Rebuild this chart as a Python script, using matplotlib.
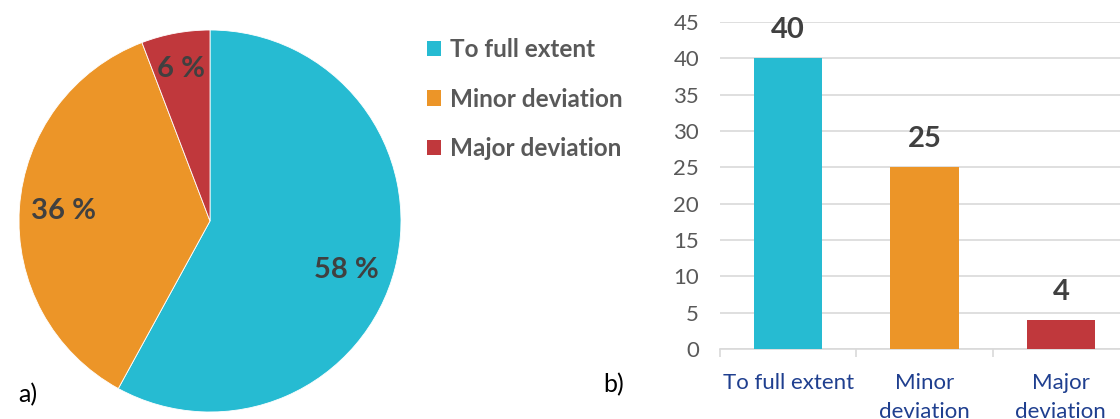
import matplotlib
matplotlib.use("Agg")
import matplotlib.pyplot as plt
from matplotlib.patches import Patch
import numpy as np

plt.rcParams['font.family'] = ['Lato', 'DejaVu Sans']

categories = ["To full extent", "Minor deviation", "Major deviation"]
bar_tick_labels = ["To full extent", "Minor\ndeviation", "Major\ndeviation"]
counts = [40, 25, 4]
pie_labels = ["58 %", "36 %", "6 %"]
colors = ["#26BBD2", "#EC9528", "#C0383C"]
y_ticks = [0, 5, 10, 15, 20, 25, 30, 35, 40, 45]

W, H = 1120, 419
fig = plt.figure(figsize=(W / 100, H / 100), dpi=100)

# ---- pie ----
cx, cy, r = 210, 221, 191
axp = fig.add_axes([(cx - r) / W, (H - cy - r) / H, 2 * r / W, 2 * r / H])
wedges, texts = axp.pie(counts, colors=colors, startangle=90, counterclock=False,
                        wedgeprops=dict(edgecolor="white", linewidth=0.6),
                        labels=pie_labels, labeldistance=0.77,
                        textprops=dict(fontsize=21, fontweight="bold", color="#404040",
                                       ha="center", va="center"))
# Excel-like "best fit" label placement (small angular / radial adjustments)
ang_shift = [-5.5, 0.0, 0.5]
dist = [0.76, 0.77, 0.81]
for t, w, da, d in zip(texts, wedges, ang_shift, dist):
    a = np.deg2rad((w.theta1 + w.theta2) / 2 + da)
    t.set_position((d * np.cos(a), d * np.sin(a)))
    t.set_ha("center")
    t.set_va("center")
axp.set_xlim(-1, 1)
axp.set_ylim(-1, 1)
axp.set_aspect("equal")

handles = [Patch(facecolor=c, edgecolor="none") for c in colors]
fig.legend(handles, categories, loc="upper left", bbox_to_anchor=(405 / W, 1 - 16 / H),
           frameon=False, prop=dict(weight="bold", size=17.5),
           labelcolor="#595959", handlelength=0.6, handleheight=0.6,
           handletextpad=0.35, labelspacing=1.1)

fig.text(18 / W, 1 - 395 / H, "a)", fontsize=18, ha="left", va="center", color="black")
fig.text(603 / W, 1 - 385 / H, "b)", fontsize=18, ha="left", va="center", color="black")

# ---- bars ----
x0, x1 = 720, 1129
ytop, ybot = 22, 349
axb = fig.add_axes([x0 / W, (H - ybot) / H, (x1 - x0) / W, (ybot - ytop) / H])
x = np.arange(len(counts))
bars = axb.bar(x, counts, width=0.5, color=colors, zorder=3)
axb.set_xlim(-0.5, len(counts) - 0.5)
axb.set_ylim(0, 45)
axb.set_yticks(y_ticks)
axb.grid(axis="y", color="#D9D9D9", linewidth=1.2, zorder=0)
for s in ["left", "top", "right"]:
    axb.spines[s].set_visible(False)
axb.spines["bottom"].set_color("#D9D9D9")
axb.spines["bottom"].set_linewidth(1.2)
axb.tick_params(axis="y", length=0, pad=15, labelsize=16, labelcolor="#595959")
axb.set_xticks(x)
axb.set_xticklabels(bar_tick_labels)
axb.set_xticks(np.arange(-0.5, len(counts), 1.0), minor=True)
axb.tick_params(axis="x", which="major", length=0, pad=17, labelsize=16, labelcolor="#1F3F8F")
axb.tick_params(axis="x", which="minor", length=6, width=1.2, color="#D9D9D9")
for lbl in axb.get_xticklabels():
    lbl.set_linespacing(1.6)
axb.bar_label(bars, labels=[str(v) for v in counts], padding=11, fontsize=21,
              fontweight="bold", color="#404040")

fig.savefig("out.png", dpi=100)
